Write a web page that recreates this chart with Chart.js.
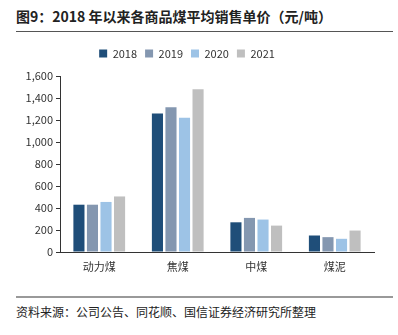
<!DOCTYPE html>
<html>
<head>
<meta charset="utf-8">
<script src="https://cdn.jsdelivr.net/npm/chart.js@4"></script>
<style>
    body { margin: 0; width: 398px; height: 335px; background: #fff; position: relative; overflow: hidden; font-family: "Noto Sans CJK SC", sans-serif; }
    .title { position: absolute; left: 16px; top: 6px; font-size: 14px; font-weight: bold; color: #222; }
    .rule-top { position: absolute; left: 16px; width: 377px; top: 31px; height: 1px; background: #555; }
    .chart-wrap { position: absolute; left: 0; top: 40px; width: 398px; height: 240px; }
    .rule-bottom { position: absolute; left: 16px; width: 377px; top: 296px; height: 2px; background: #999; }
    .source { position: absolute; left: 16px; top: 303px; font-size: 12px; color: #222; }
</style>
</head>
<body>
<div class="title">图9：2018 年以来各商品煤平均销售单价（元/吨）</div>
<div class="rule-top"></div>
<div class="chart-wrap"><canvas id="priceChart"></canvas></div>
<div class="rule-bottom"></div>
<div class="source">资料来源：公司公告、同花顺、国信证券经济研究所整理</div>
<script>
const categories = ['动力煤', '焦煤', '中煤', '煤泥'];
const years = ['2018', '2019', '2020', '2021'];
const price2018 = [430, 1260, 270, 150];
const price2019 = [430, 1315, 310, 135];
const price2020 = [455, 1220, 295, 120];
const price2021 = [505, 1480, 240, 195];
const yearColors = ['#1f4e79', '#8497b0', '#9dc3e6', '#bfbfbf'];

// push the plot area down a little below the legend
const legendGap = {
    id: 'legendGap',
    beforeInit(chart) {
        const fit = chart.legend.fit;
        chart.legend.fit = function () {
            fit.call(this);
            this.height += 7;
        };
    },
};

document.addEventListener('DOMContentLoaded', () => {
    const canvas = document.getElementById('priceChart');
    const series = [price2018, price2019, price2020, price2021];

    new Chart(canvas, {
        type: 'bar',
        data: {
            labels: categories,
            datasets: years.map((year, i) => ({
                label: year,
                data: series[i],
                backgroundColor: yearColors[i],
                barPercentage: 0.82,
                categoryPercentage: 0.69,
            })),
        },
        plugins: [legendGap],
        options: {
            responsive: true,
            maintainAspectRatio: false,
            animation: false,
            layout: { padding: { top: 0, right: 24, left: 0, bottom: 0 } },
            plugins: {
                legend: {
                    position: 'top',
                    labels: {
                        boxWidth: 8,
                        boxHeight: 8,
                        padding: 8,
                        color: '#333',
                        font: { size: 11, family: 'Noto Sans CJK SC' },
                    },
                },
                tooltip: { enabled: false },
            },
            scales: {
                x: {
                    grid: { display: false },
                    border: { color: '#333', width: 1 },
                    ticks: { color: '#333', font: { size: 11, family: 'Noto Sans CJK SC' }, padding: 0 },
                    afterFit: (scale) => { scale.height = 28; },
                },
                y: {
                    min: 0,
                    max: 1600,
                    ticks: {
                        stepSize: 200,
                        color: '#333',
                        padding: 3,
                        font: { size: 11, family: 'Noto Sans CJK SC' },
                        callback: (value) => value.toLocaleString('en-US'),
                    },
                    grid: { drawOnChartArea: false, drawTicks: true, tickLength: 4, color: '#333' },
                    border: { color: '#333', width: 1 },
                    afterFit: (scale) => { scale.width = 60; },
                },
            },
        },
    });
});
</script>
</body>
</html>
